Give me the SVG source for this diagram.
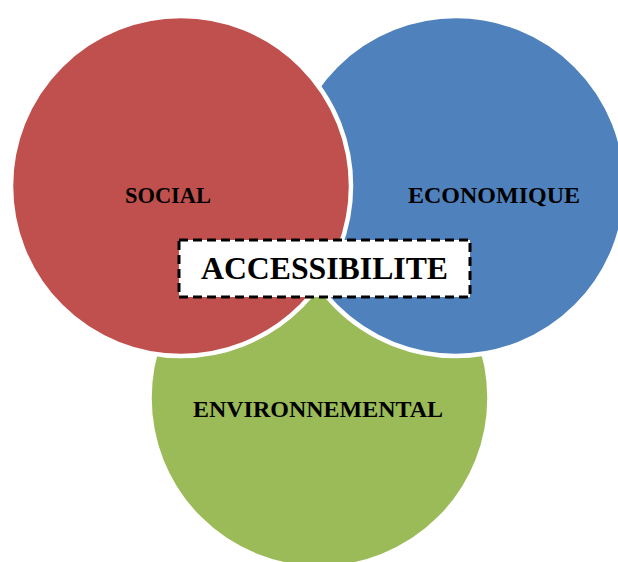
<svg xmlns="http://www.w3.org/2000/svg" width="618" height="562" viewBox="0 0 618 562">
<style>
.circ{stroke:#FFFFFF;stroke-width:4.5}
.lbl{font-family:"Liberation Serif","Times New Roman",serif;font-weight:bold;font-size:23px;fill:#000000;text-anchor:middle}
.center{font-family:"Liberation Serif","Times New Roman",serif;font-weight:bold;font-size:32px;fill:#000000;text-anchor:middle}
</style>
<rect width="618" height="562" fill="#FFFFFF"/>
<g id="environnemental">
<circle class="circ" cx="319.5" cy="398" r="170" fill="#9BBB59"/>
<text class="lbl" x="318" y="417" textLength="250" lengthAdjust="spacingAndGlyphs">ENVIRONNEMENTAL</text>
</g>
<g id="economique">
<circle class="circ" cx="456" cy="186" r="170" fill="#4F81BD"/>
<text class="lbl" x="494" y="203" textLength="172" lengthAdjust="spacingAndGlyphs">ECONOMIQUE</text>
</g>
<g id="social">
<circle class="circ" cx="181" cy="186" r="170" fill="#C0504D"/>
<text class="lbl" x="168" y="203" textLength="86" lengthAdjust="spacingAndGlyphs">SOCIAL</text>
</g>
<g id="accessibilite">
<rect x="179" y="240" width="291" height="57" fill="#FFFFFF" stroke="#000000" stroke-width="3" stroke-dasharray="9,5"/>
<text class="center" x="324.5" y="279" textLength="247" lengthAdjust="spacingAndGlyphs">ACCESSIBILITE</text>
</g>
<g id="connectors"/>
</svg>
